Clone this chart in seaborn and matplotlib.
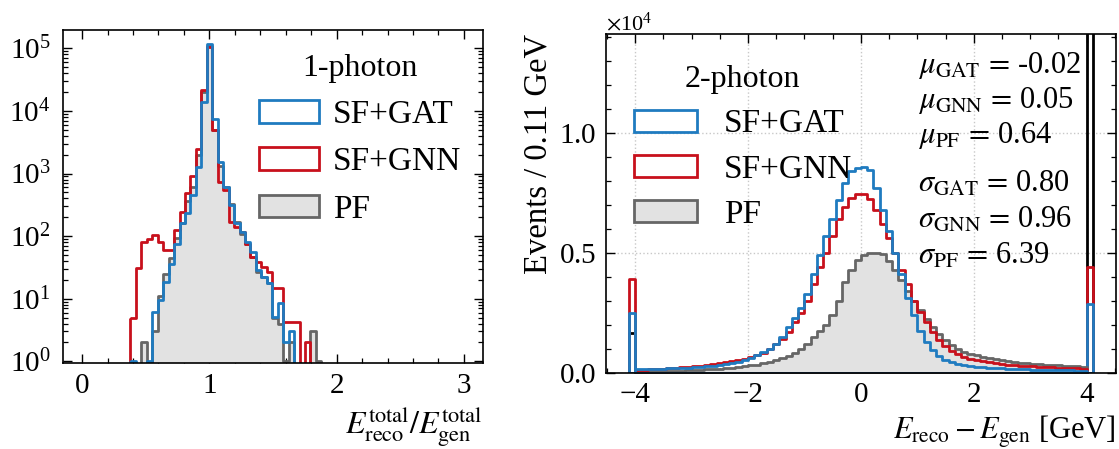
import numpy as np
import matplotlib
matplotlib.use("Agg")
import matplotlib.pyplot as plt
import seaborn as sns
from matplotlib.patches import Patch
from matplotlib.ticker import MultipleLocator, LogLocator, NullFormatter

# ---------------- data ----------------
# Left panel (1-photon): E_reco^total / E_gen^total, 35 bins between 0.38 and 1.88
ratio_range = (0.38, 1.88)
ratio_nbins = 35
gat_1ph = [1, 0, 0, 1, 6.2, 9.5, 18.6, 36.5, 76, 160,
           230, 455, 1280, 14000, 115000, 7300, 1540, 610, 315, 160,
           117, 81, 56, 28.6, 22, 17.5, 5.1, 8.4, 2, 3.1,
           0, 0, 0, 0, 0]
gnn_1ph = [5, 31, 80, 89, 106, 80, 60, 60, 124, 245,
           480, 920, 2450, 21700, 105000, 5000, 740, 550, 170, 140,
           117, 76, 47, 39, 32, 27, 15, 15, 4.3, 4.3,
           4.3, 0, 2, 0, 0]
pf_1ph = [0, 0, 2, 0, 3.1, 11, 25, 44, 92, 160,
          370, 610, 2000, 20000, 110000, 5000, 1300, 600, 330, 170,
          110, 75, 47, 27, 22, 17.5, 5, 4, 1, 2,
          0, 0, 0, 3, 1]

# Right panel (2-photon): E_reco - E_gen [GeV], 72 bins between -4 and 4
de_range = (-4.0, 4.0)
de_nbins = 72
gat_2ph = [150, 150, 160, 160, 170, 180, 190, 200, 210, 220,
           240, 260, 290, 320, 350, 390, 450, 520, 600, 720,
           850, 1000, 1200, 1500, 1900, 2300, 2700, 3300, 4100, 4900,
           5700, 6400, 7200, 7900, 8400, 8550, 8580, 8450, 7700, 6800,
           5900, 5000, 4100, 3100, 2400, 1750, 1300, 950, 700, 550,
           440, 360, 310, 270, 250, 230, 210, 190, 180, 170,
           160, 150, 140, 130, 120, 120, 110, 110, 100, 100,
           90, 90]
gnn_2ph = [120, 130, 140, 150, 160, 180, 200, 220, 240, 270,
           300, 330, 360, 400, 440, 480, 520, 570, 640, 720,
           830, 980, 1180, 1400, 1700, 2100, 2500, 3000, 3700, 4400,
           5000, 5700, 6400, 6900, 7300, 7450, 7450, 7250, 6800, 6200,
           5600, 5000, 4300, 3700, 3000, 2550, 2100, 1700, 1350, 1100,
           920, 780, 670, 590, 530, 480, 440, 400, 370, 340,
           320, 300, 280, 260, 250, 230, 220, 210, 200, 190,
           180, 170]
pf_2ph = [60, 60, 65, 70, 75, 80, 85, 90, 100, 110,
          120, 135, 150, 170, 190, 210, 240, 270, 300, 340,
          390, 450, 520, 600, 700, 820, 980, 1200, 1500, 1750,
          2000, 2400, 3000, 3800, 4300, 4700, 4900, 5000, 5000, 4950,
          4650, 4300, 3850, 3400, 3000, 2600, 2250, 1900, 1600, 1350,
          1150, 1000, 880, 790, 720, 660, 610, 560, 520, 480,
          450, 420, 400, 380, 360, 340, 320, 300, 290, 270,
          260, 250]
# under/overflow bins, order: SF+GAT, SF+GNN, PF
underflow_2ph = [2500, 3900, 1670]
overflow_2ph = [2850, 4400, 30000]

labels = ["SF+GAT", "SF+GNN", "PF"]
mu_vals = ["-0.02", "0.05", "0.64"]
sigma_vals = ["0.80", "0.96", "6.39"]
sub_names = ["GAT", "GNN", "PF"]

# ---------------- style ----------------
BLUE = "#1f7bc0"
RED = "#c8101c"
GRAY = "#666666"
GRAYF = "#e2e2e2"

sns.set_style("ticks")
plt.rcParams.update({
    "font.family": "serif",
    "font.serif": ["Liberation Serif", "DejaVu Serif"],
    "mathtext.fontset": "stix",
    "font.size": 21,
    "axes.linewidth": 1.2,
    "axes.edgecolor": "black",
    "axes.labelcolor": "black",
    "text.color": "black",
    "xtick.color": "black", "ytick.color": "black",
    "xtick.direction": "in", "ytick.direction": "in",
    "xtick.top": True, "ytick.right": True,
    "xtick.major.size": 6.5, "ytick.major.size": 6.5,
    "xtick.minor.size": 3.5, "ytick.minor.size": 3.5,
    "xtick.major.width": 1.0, "ytick.major.width": 1.0,
    "xtick.minor.width": 0.9, "ytick.minor.width": 0.9,
    "xtick.major.pad": 7, "ytick.major.pad": 7,
    "xtick.labelsize": 21, "ytick.labelsize": 21,
})

W, H = 1119, 449
fig = plt.figure(figsize=(W / 100, H / 100), dpi=100)
ax1 = fig.add_axes([63 / W, 1 - 363 / H, 420 / W, 333 / H])
ax2 = fig.add_axes([605.7 / W, 1 - 372.7 / H, (1116 - 605.7) / W, 338.4 / H])


def step_hist(ax, centers, counts, edges, face, edge, lw=2.0):
    sns.histplot(x=list(centers), weights=list(counts), bins=list(edges),
                 element="step", fill=True, facecolor=face, edgecolor=edge,
                 color=edge, linewidth=lw, ax=ax)


# ---------------- left panel ----------------
ax1.set_yscale("log")
edges1 = np.linspace(ratio_range[0], ratio_range[1], ratio_nbins + 1)
centers1 = 0.5 * (edges1[1:] + edges1[:-1])
step_hist(ax1, centers1, pf_1ph, edges1, GRAYF, GRAY)
step_hist(ax1, centers1, gnn_1ph, edges1, "none", RED)
step_hist(ax1, centers1, gat_1ph, edges1, "none", BLUE)

ax1.set_xlim(-0.15, 3.15)
ax1.set_ylim(0.94, 1.96e5)
ax1.xaxis.set_major_locator(MultipleLocator(1))
ax1.xaxis.set_minor_locator(MultipleLocator(0.2))
ax1.yaxis.set_major_locator(LogLocator(base=10, numticks=10))
ax1.yaxis.set_minor_locator(LogLocator(base=10, subs=np.arange(2, 10), numticks=20))
ax1.yaxis.set_minor_formatter(NullFormatter())
ax1.tick_params(axis="y", which="major", pad=9)
ax1.set_ylabel("")
ax1.set_xlabel(r"$E_{\rm reco}^{\rm total}/E_{\rm gen}^{\rm total}$", loc="right", fontsize=23)

handles = [Patch(facecolor="white", edgecolor=BLUE, linewidth=2, label=labels[0]),
           Patch(facecolor="white", edgecolor=RED, linewidth=2, label=labels[1]),
           Patch(facecolor=GRAYF, edgecolor=GRAY, linewidth=2, label=labels[2])]
ax1.legend(handles=handles, title="1-photon", loc="upper right",
           bbox_to_anchor=(1.02, 1.018), frameon=False, fontsize=24,
           title_fontsize=23, handlelength=1.8, handleheight=0.66,
           handletextpad=0.42, labelspacing=0.5)

# ---------------- right panel ----------------
edges2 = np.linspace(de_range[0], de_range[1], de_nbins + 1)
centers2 = 0.5 * (edges2[1:] + edges2[:-1])
bw = edges2[1] - edges2[0]
flow_colors = [BLUE, RED, "black"]
for i in [2, 1, 0]:
    step_hist(ax2, [de_range[0] - bw / 2], [underflow_2ph[i]],
              [de_range[0] - bw, de_range[0]], "none", flow_colors[i])
    step_hist(ax2, [de_range[1] + bw / 2], [overflow_2ph[i]],
              [de_range[1], de_range[1] + bw], "none", flow_colors[i])

step_hist(ax2, centers2, pf_2ph, edges2, GRAYF, GRAY)
step_hist(ax2, centers2, gnn_2ph, edges2, "none", RED)
step_hist(ax2, centers2, gat_2ph, edges2, "none", BLUE)

ax2.set_xlim(-4.52, 4.52)
ax2.set_ylim(0, 14100)
ax2.xaxis.set_major_locator(MultipleLocator(2))
ax2.xaxis.set_minor_locator(MultipleLocator(0.5))
ax2.yaxis.set_major_locator(MultipleLocator(5000))
ax2.yaxis.set_minor_locator(MultipleLocator(1000))
ax2.ticklabel_format(axis="y", style="sci", scilimits=(4, 4), useMathText=True)
ax2.yaxis.get_offset_text().set_fontsize(16)
ax2.grid(True, which="major", linestyle=":", color="#c8c8c8", linewidth=1.0)
ax2.set_axisbelow(True)
ax2.set_ylabel("Events / 0.11 GeV", loc="top", fontsize=23.5)
ax2.set_xlabel(r"$E_{\rm reco} - E_{\rm gen}$ [GeV]", loc="right", fontsize=22)

ax2.legend(handles=handles, title="2-photon", loc="upper left",
           bbox_to_anchor=(-0.004, 0.997), frameon=False, fontsize=24,
           title_fontsize=23, handlelength=1.9, handleheight=0.66,
           handletextpad=0.8, labelspacing=0.44)

mu_y = [0.885, 0.781, 0.678]
sig_y = [0.535, 0.427, 0.323]
for name, v, y in zip(sub_names, mu_vals, mu_y):
    ax2.text(0.612, y, r"$\mu_{\rm %s}\,=\,$" % name + v, transform=ax2.transAxes,
             ha="left", va="baseline", fontsize=22)
for name, v, y in zip(sub_names, sigma_vals, sig_y):
    ax2.text(0.612, y, r"$\sigma_{\rm %s}\,=\,$" % name + v, transform=ax2.transAxes,
             ha="left", va="baseline", fontsize=22)

fig.savefig("out.png", dpi=100)
